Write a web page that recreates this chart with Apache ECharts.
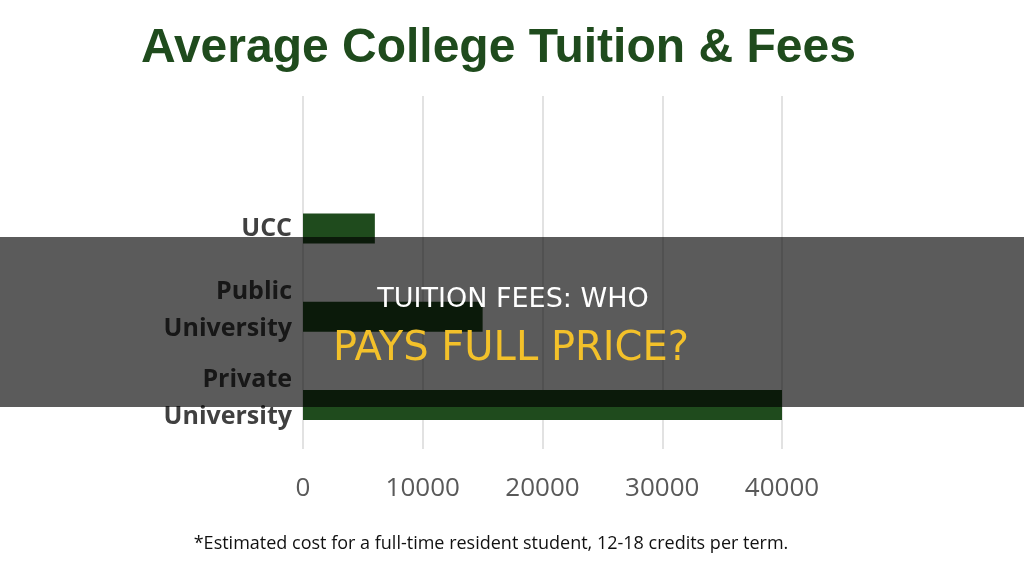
<!DOCTYPE html>
<html><head><meta charset="utf-8">
<script src="https://cdn.jsdelivr.net/npm/echarts@6/dist/echarts.min.js"></script>
<style>html,body{margin:0;padding:0;background:#fff}#c{width:1024px;height:577px}</style>
</head><body><div id="c"></div>
<script>
const titleText = 'Average College Tuition & Fees';
const categories = ['', 'UCC', 'Public\nUniversity', 'Private\nUniversity'];
const tuition = [null, 6000, 15000, 40000];
const xTicks = [0, 10000, 20000, 30000, 40000];
const footnote = '*Estimated cost for a full-time resident student, 12-18 credits per term.';
const overlayLine1 = 'TUITION FEES: WHO';
const overlayLine2 = 'PAYS FULL PRICE?';

const chart = echarts.init(document.getElementById('c'), null, {renderer: 'canvas'});
chart.setOption({
  animation: false,
  backgroundColor: '#ffffff',
  title: {
    text: titleText, left: 136, top: 20,
    textStyle: {fontFamily: 'Liberation Sans', fontWeight: 'bold', fontSize: 48, color: '#1f4b1d'}
  },
  grid: {left: 303, right: 242, top: 96, bottom: 128, containLabel: false},
  xAxis: {
    type: 'value', min: xTicks[0], max: xTicks[xTicks.length - 1], interval: 10000,
    axisLine: {show: false}, axisTick: {show: false},
    splitLine: {lineStyle: {color: '#d9d9d9', width: 1.5}},
    axisLabel: {fontFamily: 'Open Sans', fontSize: 26, color: '#595959', margin: 27,
      formatter: v => String(v)}
  },
  yAxis: {
    type: 'category', data: categories, inverse: true,
    axisLine: {show: false}, axisTick: {show: false},
    axisLabel: {
      fontFamily: 'Open Sans', fontWeight: 'bold', fontSize: 25, color: '#404040', margin: 11, lineHeight: 37, align: 'right',
      formatter: v => {
        if (v.indexOf('\n') < 0) return v;
        const parts = v.split('\n');
        return parts.map((s, i) => i === parts.length - 1 ? '{b|' + s + '}' : '{a|' + s + '}').join('\n');
      },
      rich: {
        a: {fontFamily: 'Open Sans', fontWeight: 'bold', fontSize: 25, color: '#404040', lineHeight: 24},
        b: {fontFamily: 'Open Sans', fontWeight: 'bold', fontSize: 25, color: '#404040', lineHeight: 50}
      }
    }
  },
  series: [{
    type: 'bar', data: tuition, barWidth: 30,
    itemStyle: {color: '#1f4b1d'}
  }],
  graphic: [
    {type: 'rect', z: 100, shape: {x: 0, y: 237, width: 1024, height: 170}, style: {fill: 'rgba(0,0,0,0.645)'}},
    {type: 'text', z: 101, x: 513, y: 300, style: {text: overlayLine1, fill: '#ffffff', font: '27px "DejaVu Sans"', textAlign: 'center', textVerticalAlign: 'middle'}},
    {type: 'text', z: 101, x: 511, y: 350, style: {text: overlayLine2, fill: '#f3c12a', font: '40px "DejaVu Sans"', textAlign: 'center', textVerticalAlign: 'middle'}},
    {type: 'text', z: 10, x: 491, y: 544, style: {text: footnote, fill: '#111111', font: '18px "Open Sans"', textAlign: 'center', textVerticalAlign: 'middle'}}
  ]
});
</script></body></html>
